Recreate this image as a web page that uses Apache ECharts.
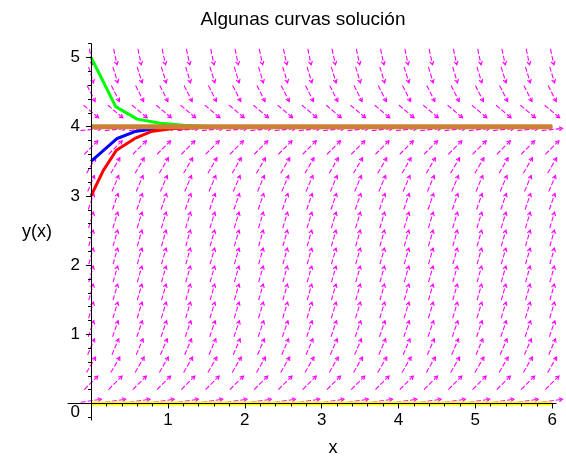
<!DOCTYPE html>
<html>
<head>
<meta charset="utf-8">
<title>Algunas curvas solución</title>
<script src="https://cdn.jsdelivr.net/npm/echarts@6/dist/echarts.min.js"></script>
<style>
  html, body { margin: 0; padding: 0; background: #ffffff; }
  #chart { width: 566px; height: 457px; }
</style>
</head>
<body>
<div id="chart"></div>
<script>
// campo de direcciones: columnas, filas y angulo (grados en pantalla) de cada fila
const colX = [0, 0.316, 0.632, 0.947, 1.263, 1.579, 1.895, 2.211, 2.526, 2.842,
  3.158, 3.474, 3.789, 4.105, 4.421, 4.737, 5.053, 5.368, 5.684, 6.0];
const rowY = [0.04, 0.30, 0.56, 0.82, 1.08, 1.35, 1.61, 1.87, 2.13, 2.39,
  2.65, 2.92, 3.18, 3.44, 3.70, 3.96, 4.22, 4.48, 4.75, 5.01];
const rowAngle = [8, 45, 60, 67, 71, 73, 74, 74, 74, 74,
  73, 71, 67, 60, 45, 6, -40, -63, -73, -78];

// curvas solucion
const greenX = [0, 0.06, 0.32, 0.6, 0.9, 1.2, 1.6, 6];
const greenY = [5, 4.87, 4.29, 4.11, 4.05, 4.02, 4.0, 4.0];
const blueX = [0, 0.34, 0.57, 0.83, 1.2, 1.6, 6];
const blueY = [3.5, 3.83, 3.93, 3.97, 3.99, 4.0, 4.0];
const redX = [0, 0.16, 0.33, 0.57, 0.78, 1.04, 1.4, 1.8, 6];
const redY = [3, 3.37, 3.66, 3.83, 3.93, 3.97, 3.99, 4.0, 4.0];
const equilX = [0, 6];
const orangeY = [4, 4];
const yellowY = [0, 0];

// ticks
const xLabels = [1, 2, 3, 4, 5, 6];
const yLabels = [0, 1, 2, 3, 4, 5];

const xMinor = [];
for (let i = 0; i <= 30; i++) xMinor.push(+(i * 0.2).toFixed(1));
const yMinor = [];
for (let i = -1; i <= 26; i++) yMinor.push(+(i * 0.2).toFixed(1));

const field = [];
rowY.forEach((y, r) => {
  colX.forEach(x => field.push([x, y, rowAngle[r]]));
});

const pairs = (xs, ys) => xs.map((x, i) => [x, ys[i]]);

const chart = echarts.init(document.getElementById('chart'));

const FONT = 'Liberation Sans';
const axisBase = {
  type: 'value',
  splitLine: { show: false },
  axisLine: { onZero: true, onZeroAxisIndex: 0, lineStyle: { color: '#000', width: 1 } }
};

chart.setOption({
  animation: false,
  backgroundColor: '#ffffff',
  title: {
    text: 'Algunas curvas solución',
    left: 298,
    top: 5,
    textAlign: 'center',
    textStyle: { color: '#000', fontWeight: 'normal', fontSize: 19, fontFamily: FONT }
  },
  // en v6 las etiquetas se colocan desde el borde del grid, de ahi los margenes negativos
  grid: { left: 68, right: 10, top: 43.7, bottom: 36.9, containLabel: false, outerBoundsMode: 'none' },
  xAxis: [
    Object.assign({}, axisBase, {
      position: 'bottom',
      min: -0.3,
      max: 6.05,
      z: 5,
      name: 'x',
      nameLocation: 'middle',
      nameGap: 19,
      nameTextStyle: { color: '#000', fontSize: 18, fontFamily: FONT, padding: [0, 0, 0, 42] },
      axisTick: { customValues: xLabels, length: 5, lineStyle: { color: '#000' } },
      axisLabel: { customValues: xLabels, margin: -8, color: '#000', fontSize: 17, fontFamily: FONT }
    }),
    Object.assign({}, axisBase, {
      position: 'bottom',
      min: -0.3,
      max: 6.05,
      z: 5,
      axisLine: { show: false, onZero: true, onZeroAxisIndex: 0 },
      axisTick: { customValues: xMinor, length: 3, lineStyle: { color: '#000' } },
      axisLabel: { show: false }
    })
  ],
  yAxis: [
    Object.assign({}, axisBase, {
      position: 'left',
      min: -0.24,
      max: 5.2,
      z: 5,
      name: 'y(x)',
      nameLocation: 'middle',
      nameRotate: 0,
      nameGap: 16,
      nameTextStyle: { color: '#000', fontSize: 18, fontFamily: FONT },
      axisTick: { customValues: yLabels, length: 5, lineStyle: { color: '#000' } },
      axisLabel: {
        customValues: yLabels,
        margin: -12,
        color: '#000',
        fontSize: 17,
        fontFamily: FONT,
        formatter: v => (v === 0 ? '{z|0}' : String(v)),
        rich: { z: { fontSize: 17, fontFamily: FONT, color: '#000', padding: [18, 0, 0, 0] } }
      }
    }),
    Object.assign({}, axisBase, {
      position: 'left',
      min: -0.24,
      max: 5.2,
      z: 5,
      axisLine: { show: false, onZero: true, onZeroAxisIndex: 0 },
      axisTick: { customValues: yMinor, length: 3, lineStyle: { color: '#000' } },
      axisLabel: { show: false }
    })
  ],
  series: [
    {
      type: 'custom',
      name: 'campo',
      z: 1,
      silent: true,
      data: field,
      renderItem: function (params, api) {
        const p = api.coord([api.value(0), api.value(1)]);
        const a = api.value(2) * Math.PI / 180;
        const len = 15 + 6 * Math.cos(a);
        const ux = Math.cos(a), uy = -Math.sin(a);
        const x1 = p[0] - ux * len / 2, y1 = p[1] - uy * len / 2;
        const x2 = p[0] + ux * len / 2, y2 = p[1] + uy * len / 2;
        const h = 4, t = 30 * Math.PI / 180;
        const bx = -ux, by = -uy;
        const b1 = [x2 + h * (bx * Math.cos(t) - by * Math.sin(t)), y2 + h * (bx * Math.sin(t) + by * Math.cos(t))];
        const b2 = [x2 + h * (bx * Math.cos(-t) - by * Math.sin(-t)), y2 + h * (bx * Math.sin(-t) + by * Math.cos(-t))];
        const st = { stroke: '#ff00ff', lineWidth: 1.1, fill: null };
        return {
          type: 'group',
          children: [
            { type: 'line', shape: { x1: x1, y1: y1, x2: x2, y2: y2 },
              style: Object.assign({ lineDash: [5, 2] }, st) },
            { type: 'polyline', shape: { points: [b1, [x2, y2], b2] }, style: st }
          ]
        };
      }
    },
    {
      type: 'line', name: 'y=0', z: 3, symbol: 'none',
      lineStyle: { color: '#ffff00', width: 4 },
      data: pairs(equilX, yellowY)
    },
    {
      type: 'line', name: 'y(0)=5', z: 3, symbol: 'none',
      lineStyle: { color: '#00ff00', width: 3 },
      data: pairs(greenX, greenY)
    },
    {
      type: 'line', name: 'y(0)=3.5', z: 3, symbol: 'none',
      lineStyle: { color: '#0000ff', width: 3 },
      data: pairs(blueX, blueY)
    },
    {
      type: 'line', name: 'y(0)=3', z: 3, symbol: 'none',
      lineStyle: { color: '#ff0000', width: 3 },
      data: pairs(redX, redY)
    },
    {
      type: 'line', name: 'y=4', z: 4, symbol: 'none',
      lineStyle: { color: '#cc8033', width: 5 },
      data: pairs(equilX, orangeY)
    }
  ]
});
</script>
</body>
</html>
